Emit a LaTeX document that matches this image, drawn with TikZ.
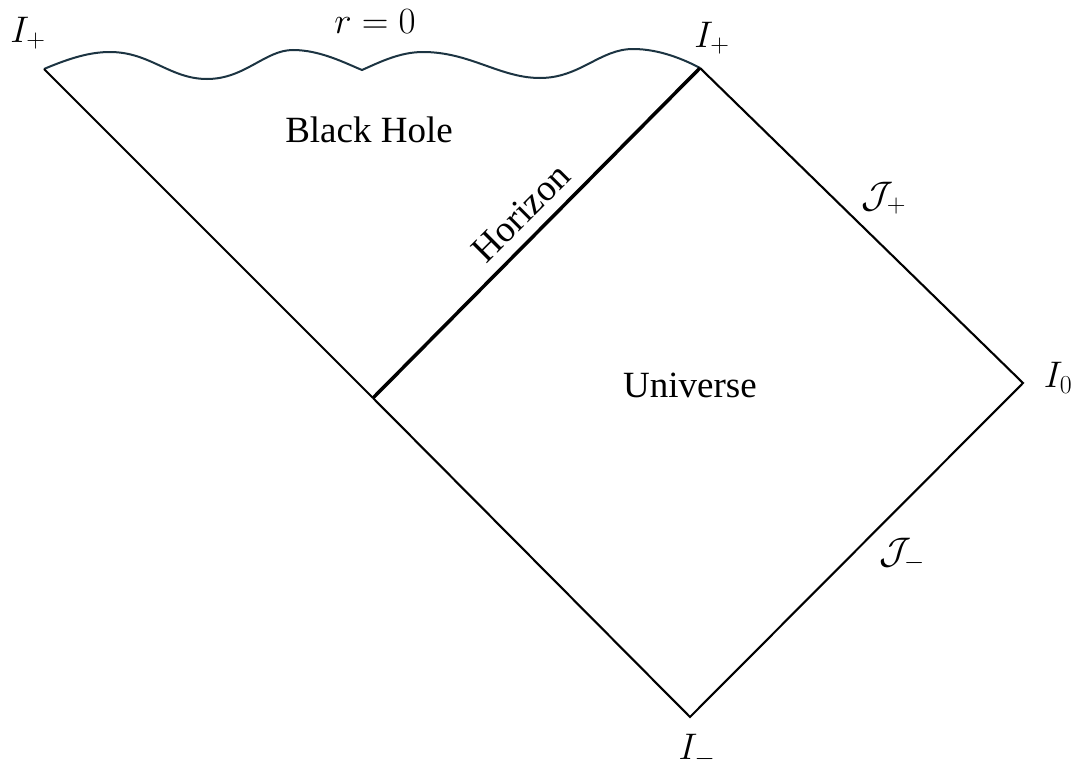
\RequirePackage{fix-cm}
\documentclass[tikz,border=0pt]{standalone}
\usepackage{fontspec}
\setmainfont{Liberation Serif}
\definecolor{wavecol}{RGB}{28,52,66}
\begin{document}
\begin{tikzpicture}[x=1pt,y=-1pt,
  thinline/.style={line width=2.1pt,line join=miter},
  thickline/.style={line width=3.5pt},
  lbl/.style={inner sep=0pt,font=\fontsize{37}{44}\selectfont}]
\useasboundingbox (0,0) rectangle (1080,771);
\coordinate (tl) at (44,69);
\coordinate (tr) at (700,68);
\coordinate (rt) at (1023,383);
\coordinate (bt) at (690,717);
\coordinate (lm) at (373,398);
% singularity
\draw[wavecol,line width=2pt] (tl) .. controls (70,58) and (90,52) .. (110,52)
  .. controls (150,52) and (170,79) .. (207,79)
  .. controls (245,79) and (265,50) .. (293,50)
  .. controls (320,50) and (345,63) .. (362,70)
  .. controls (380,62) and (400,52) .. (423,52)
  .. controls (470,52) and (500,78) .. (540,78)
  .. controls (580,78) and (600,49) .. (633,49)
  .. controls (660,49) and (685,60) .. (tr);
\draw[thinline] (tl) -- (lm);
\draw[thinline] (tr) -- (rt) -- (bt) -- (lm);
\draw[thickline] (lm) -- (tr);
% labels
\node[lbl] (ltl) at (28,33) {$I_+$};
\node[lbl] (lr0) at (375,22) {$r=0$};
\node[lbl] (ltr) at (712,38) {$I_+$};
\node[lbl] (lbh) at (369,130) {Black Hole};
\node[lbl,rotate=45] (lhz) at (521,213) {Horizon};
\node[lbl] (ljp) at (884,198) {$\mathcal{J}_+$};
\node[lbl] (lun) at (690,385) {Universe};
\node[lbl] (li0) at (1058,378) {$I_0$};
\node[lbl] (ljm) at (902,555) {$\mathcal{J}_-$};
\node[lbl] (lim) at (697,751) {$I_-$};
\end{tikzpicture}
\end{document}
